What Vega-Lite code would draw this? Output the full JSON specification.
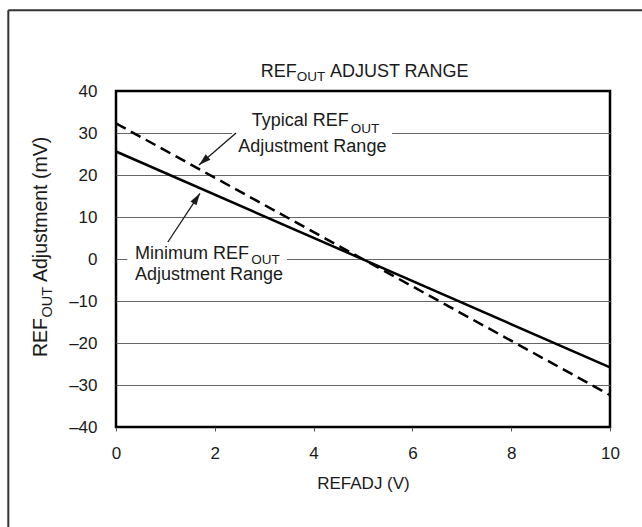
{
  "$schema": "https://vega.github.io/schema/vega-lite/v6.json",
  "width": 494,
  "height": 336,
  "autosize": {"type": "none"},
  "padding": {"left": 116, "top": 91, "right": 32, "bottom": 100},
  "background": "white",
  "config": {
    "font": "Liberation Sans",
    "view": {"stroke": "#000", "strokeWidth": 2.5}
  },
  "datasets": {
    "frame": [
      {"refadj": -2.18, "refadj2": 12, "mv": 59.21, "mv2": -70}
    ],
    "lines": [
      {"series": "Typical", "refadj": 0, "mv": 32.3},
      {"series": "Typical", "refadj": 10, "mv": -32.4},
      {"series": "Minimum", "refadj": 0, "mv": 25.6},
      {"series": "Minimum", "refadj": 10, "mv": -25.8}
    ],
    "gaps": [
      {"refadj": 2.35, "refadj2": 5.59, "mv": 29.5, "mv2": 30.5},
      {"refadj": 0.23, "refadj2": 3.46, "mv": -0.5, "mv2": 0.5}
    ],
    "arrows": [
      {"name": "Typical", "refadj": 2.43, "mv": 30.0, "refadj2": 1.68, "mv2": 22.4},
      {"name": "Minimum", "refadj": 1.05, "mv": 4.05, "refadj2": 1.70, "mv2": 15.64}
    ],
    "heads": [
      {"name": "Typical", "refadj": 1.68, "mv": 22.4},
      {"name": "Minimum", "refadj": 1.70, "mv": 15.64}
    ],
    "labels": [
      {"text": "Typical REF", "refadj": 2.747, "mv": 31.55},
      {"text": "Adjustment Range", "refadj": 2.476, "mv": 25.55},
      {"text": "Minimum REF", "refadj": 0.385, "mv": 0.0},
      {"text": "Adjustment Range", "refadj": 0.385, "mv": -5.0},
      {"text": "REF", "refadj": 2.929, "mv": 43.26},
      {"text": "ADJUST RANGE", "refadj": 4.33, "mv": 43.26}
    ],
    "subs": [
      {"text": "OUT", "refadj": 4.75, "mv": 30.07},
      {"text": "OUT", "refadj": 2.74, "mv": -1.26},
      {"text": "OUT", "refadj": 3.66, "mv": 42.45}
    ],
    "ylabels": [
      {"text": "REF", "refadj": -1.397, "mv": -23.33},
      {"text": "Adjustment (mV)", "refadj": -1.397, "mv": -5.48}
    ],
    "ysubs": [
      {"text": "OUT", "refadj": -1.296, "mv": -13.93}
    ]
  },
  "encoding": {
    "x": {
      "field": "refadj",
      "type": "quantitative",
      "scale": {"domain": [0, 10], "nice": false, "zero": false},
      "axis": {
        "values": [0, 2, 4, 6, 8, 10],
        "grid": false,
        "ticks": true,
        "tickSize": 4,
        "tickColor": "#555",
        "domain": false,
        "labelFontSize": 17,
        "labelColor": "#1a1a1a",
        "labelPadding": 14,
        "labelFlush": false,
        "title": "REFADJ (V)",
        "titleFontSize": 17,
        "titleFontWeight": "normal",
        "titleColor": "#1a1a1a",
        "titlePadding": 14
      }
    },
    "y": {
      "field": "mv",
      "type": "quantitative",
      "scale": {"domain": [-40, 40], "nice": false},
      "axis": {
        "values": [-40, -30, -20, -10, 0, 10, 20, 30, 40],
        "labelExpr": "datum.value < 0 ? '–' + format(-datum.value, 'd') : datum.label",
        "grid": true,
        "gridColor": {"condition": {"test": "abs(datum.value) == 40", "value": "transparent"}, "value": "#666"},
        "gridWidth": 1,
        "ticks": false,
        "domain": false,
        "labelFontSize": 17,
        "labelColor": "#1a1a1a",
        "labelPadding": 19,
        "labelFlush": false,
        "labelOverlap": false,
        "title": null
      }
    }
  },
  "layer": [
    {
      "data": {"name": "frame"},
      "mark": {"type": "rule", "stroke": "#333", "strokeWidth": 2, "clip": false},
      "encoding": {"y2": {"field": "mv2"}}
    },
    {
      "data": {"name": "frame"},
      "mark": {"type": "rule", "stroke": "#333", "strokeWidth": 2, "clip": false},
      "encoding": {"x2": {"field": "refadj2"}}
    },
    {
      "data": {"name": "gaps"},
      "mark": {"type": "rect", "fill": "white", "stroke": null},
      "encoding": {"x2": {"field": "refadj2"}, "y2": {"field": "mv2"}}
    },
    {
      "data": {"name": "lines"},
      "transform": [{"filter": "datum.series == 'Minimum'"}],
      "mark": {"type": "line", "color": "#000", "strokeWidth": 2.5}
    },
    {
      "data": {"name": "lines"},
      "transform": [{"filter": "datum.series == 'Typical'"}],
      "mark": {"type": "line", "color": "#000", "strokeWidth": 2.5, "strokeDash": [11, 6]}
    },
    {
      "data": {"name": "arrows"},
      "mark": {"type": "rule", "stroke": "#1a1a1a", "strokeWidth": 1.3},
      "encoding": {"x2": {"field": "refadj2"}, "y2": {"field": "mv2"}}
    },
    {
      "data": {"name": "heads"},
      "transform": [{"filter": "datum.name == 'Typical'"}],
      "mark": {"type": "point", "shape": "M0,0L-0.6,2L0.6,2Z", "size": 144, "angle": 229, "filled": true, "fill": "#1a1a1a", "opacity": 1, "strokeWidth": 0}
    },
    {
      "data": {"name": "heads"},
      "transform": [{"filter": "datum.name == 'Minimum'"}],
      "mark": {"type": "point", "shape": "M0,0L-0.6,2L0.6,2Z", "size": 144, "angle": 33, "filled": true, "fill": "#1a1a1a", "opacity": 1, "strokeWidth": 0}
    },
    {
      "data": {"name": "labels"},
      "mark": {"type": "text", "align": "left", "baseline": "alphabetic", "fontSize": 18, "fill": "#1a1a1a"},
      "encoding": {"text": {"field": "text"}}
    },
    {
      "data": {"name": "subs"},
      "mark": {"type": "text", "align": "left", "baseline": "alphabetic", "fontSize": 13.5, "fill": "#1a1a1a"},
      "encoding": {"text": {"field": "text"}}
    },
    {
      "data": {"name": "ylabels"},
      "mark": {"type": "text", "align": "left", "baseline": "alphabetic", "angle": 270, "fontSize": 19.5, "fill": "#1a1a1a"},
      "encoding": {"text": {"field": "text"}}
    },
    {
      "data": {"name": "ysubs"},
      "mark": {"type": "text", "align": "left", "baseline": "alphabetic", "angle": 270, "fontSize": 14.5, "fill": "#1a1a1a"},
      "encoding": {"text": {"field": "text"}}
    }
  ]
}
